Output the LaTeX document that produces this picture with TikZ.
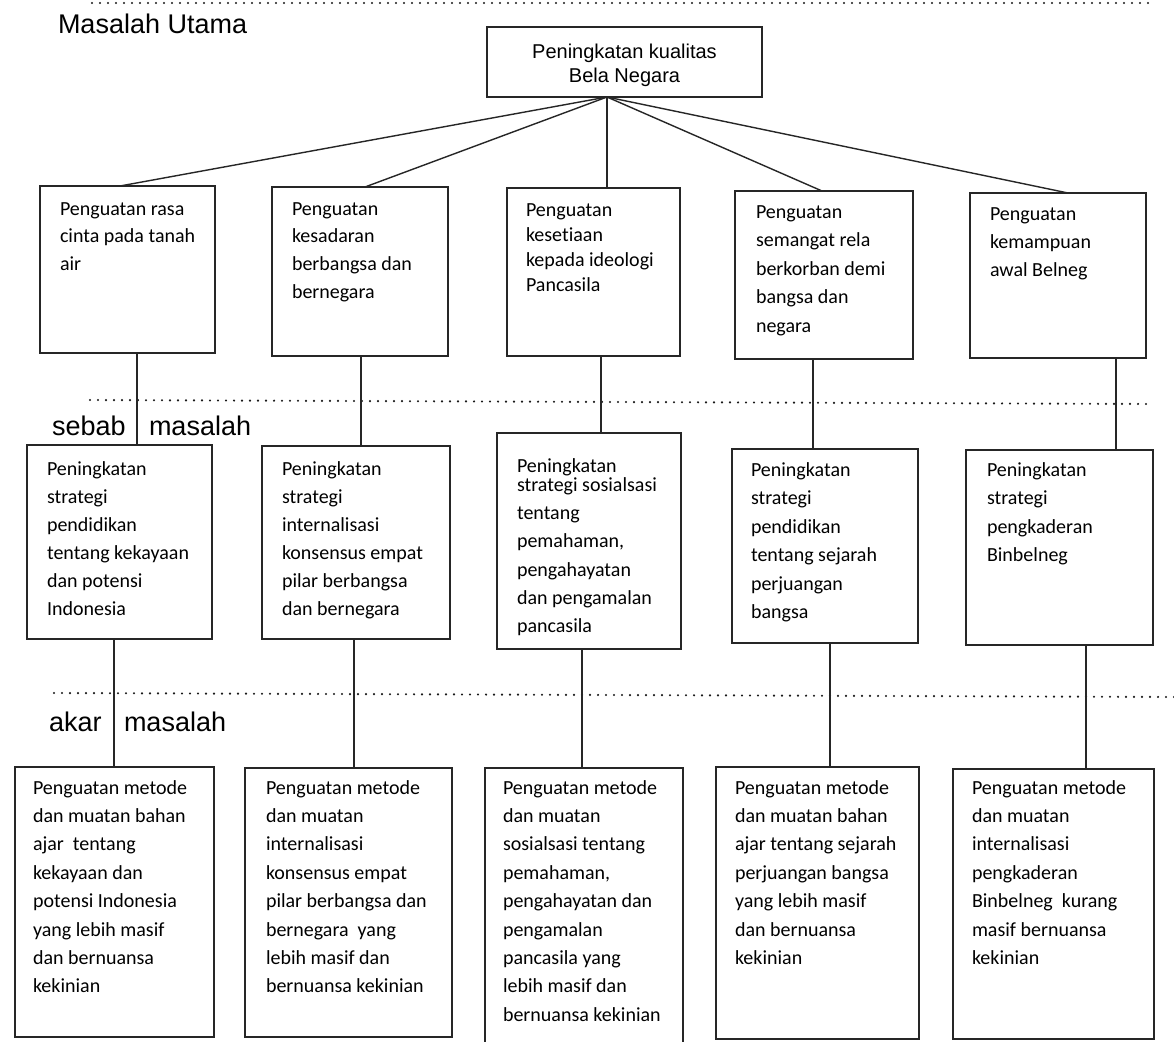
\documentclass[tikz,border=0pt]{standalone}
\usepackage{fontspec}
\newfontfamily\arialf{Liberation Sans}
\newfontfamily\calf[Ligatures=NoCommon]{Carlito}
\begin{document}
\begin{tikzpicture}[x=1pt,y=-1pt,
  boxst/.style={draw=black!85, line width=1.1pt, rectangle, inner sep=0pt, outer sep=0pt},
  txt/.style={anchor=north west, inner sep=0pt, outer sep=0pt, align=left},
  conn/.style={draw=black!85, line width=1.4pt},
  dotln/.style={draw=black!90, line width=2.4pt, line cap=round, dash pattern=on 0pt off 8pt},
  lbl/.style={anchor=base west, inner sep=0pt, outer sep=0pt, font=\arialf\fontsize{27}{32}\selectfont}]
\newcommand\mybox[5]{\node[boxst, minimum width={#4-#2}, minimum height={#5-#3}] (#1) at ({(#2+#4)/2},{(#3+#5)/2}) {};}
\newcommand\btext[5]{\node[txt, font=\calf\fontsize{20}{#4}\selectfont] (#1) at (#2,{#3-0.7*#4}) {\strut #5};}
\useasboundingbox (0,0) rectangle (1174,1041);
\fill[white] (0,0) rectangle (1174,1041);

% separators
\draw[dotln] (92,3) -- (1152,3);
\draw[dotln] (90,400) -- (1150,404);
\draw[dotln] (54,693) -- (1174,697);

% headings
\node[lbl] (mu) at (58,34) {Masalah Utama};
\node[lbl] (sb1) at (52,435) {sebab};
\node[lbl] (sb2) at (149,435) {masalah};
\node[lbl] (ak1) at (49,731) {akar};
\node[lbl] (ak2) at (124,731) {masalah};

% top box
\mybox{top}{487}{27}{762}{97}
\node[anchor=north, inner sep=0pt, align=center, font=\arialf\fontsize{20}{24}\selectfont] (toptxt) at (624.5,41.2) {\strut Peningkatan kualitas\\Bela Negara};
\coordinate (hub) at ([xshift=-17.5pt]top.south);

% row 1
\mybox{b1}{40}{186}{215}{353}
\mybox{b2}{272}{187}{448}{356}
\mybox{b3}{507}{188}{680}{356}
\mybox{b4}{735}{191}{913}{359}
\mybox{b5}{970}{193}{1146}{358}
\btext{b1t}{60}{215}{27.6}{Penguatan rasa\\cinta pada tanah\\air}
\btext{b2t}{292}{215}{27.7}{Penguatan\\kesadaran\\berbangsa dan\\bernegara}
\btext{b3t}{526}{216}{25}{Penguatan\\kesetiaan\\kepada ideologi\\Pancasila}
\btext{b4t}{756}{218}{28.5}{Penguatan\\semangat rela\\berkorban demi\\bangsa dan\\negara}
\btext{b5t}{990}{220}{28}{Penguatan\\kemampuan\\awal Belneg}

% row 2
\mybox{s1}{27}{445}{212}{639}
\mybox{s2}{262}{446}{450}{639}
\mybox{s3}{497}{433}{681}{649}
\mybox{s4}{732}{449}{918}{643}
\mybox{s5}{966}{450}{1153}{645}
\btext{s1t}{47}{475}{28}{Peningkatan\\strategi\\pendidikan\\tentang kekayaan\\dan potensi\\Indonesia}
\btext{s2t}{282}{475}{28}{Peningkatan\\strategi\\internalisasi\\konsensus empat\\pilar berbangsa\\dan bernegara}
\btext{s3t}{517}{472}{28.3}{Peningkatan\\[-9pt]strategi sosialsasi\\tentang\\pemahaman,\\pengahayatan\\dan pengamalan\\pancasila}
\btext{s4t}{751}{476}{28.5}{Peningkatan\\strategi\\pendidikan\\tentang sejarah\\perjuangan\\bangsa}
\btext{s5t}{987}{476}{28.5}{Peningkatan\\strategi\\pengkaderan\\Binbelneg}

% row 3
\mybox{a1}{15}{767}{214}{1037}
\mybox{a2}{245}{768}{452}{1037}
\mybox{a3}{485}{768}{683}{1050}
\mybox{a4}{716}{767}{919}{1039}
\mybox{a5}{953}{769}{1154}{1039}
\btext{a1t}{33}{794}{28.4}{Penguatan metode\\dan muatan bahan\\ajar\ \ tentang\\kekayaan dan\\potensi Indonesia\\yang lebih masif\\dan bernuansa\\kekinian}
\btext{a2t}{266}{794}{28.4}{Penguatan metode\\dan muatan\\internalisasi\\konsensus empat\\pilar berbangsa dan\\bernegara\ \ yang\\lebih masif dan\\bernuansa kekinian}
\btext{a3t}{503}{794}{28.4}{Penguatan metode\\dan muatan\\sosialsasi tentang\\pemahaman,\\pengahayatan dan\\pengamalan\\pancasila yang\\lebih masif dan\\bernuansa kekinian}
\btext{a4t}{735}{794}{28.4}{Penguatan metode\\dan muatan bahan\\ajar tentang sejarah\\perjuangan bangsa\\yang lebih masif\\dan bernuansa\\kekinian}
\btext{a5t}{972}{794}{28.4}{Penguatan metode\\dan muatan\\internalisasi\\pengkaderan\\Binbelneg\ \ kurang\\masif bernuansa\\kekinian}

% connectors: top -> row 1
\draw[conn] (hub) -- ([xshift=80pt]b1.north west);
\draw[conn] (hub) -- ([xshift=93pt]b2.north west);
\draw[conn] (hub) -- (hub |- b3.north);
\draw[conn] (hub) -- ([xshift=87pt]b4.north west);
\draw[conn] (hub) -- ([xshift=98pt]b5.north west);

% row 1 -> row 2
\draw[conn] ([xshift=97pt]b1.south west) -- ([xshift=110pt]s1.north west);
\draw[conn] ([xshift=89pt]b2.south west) -- ([xshift=99pt]s2.north west);
\draw[conn] ([xshift=94pt]b3.south west) -- ([xshift=104pt]s3.north west);
\draw[conn] ([xshift=78pt]b4.south west) -- ([xshift=81pt]s4.north west);
\draw[conn] ([xshift=146pt]b5.south west) -- ([xshift=150pt]s5.north west);

% row 2 -> row 3
\draw[conn] ([xshift=87pt]s1.south west) -- ([xshift=99pt]a1.north west);
\draw[conn] ([xshift=92pt]s2.south west) -- ([xshift=109pt]a2.north west);
\draw[conn] ([xshift=85pt]s3.south west) -- ([xshift=97pt]a3.north west);
\draw[conn] ([xshift=98pt]s4.south west) -- ([xshift=114pt]a4.north west);
\draw[conn] ([xshift=120pt]s5.south west) -- ([xshift=133pt]a5.north west);
\end{tikzpicture}
\end{document}
